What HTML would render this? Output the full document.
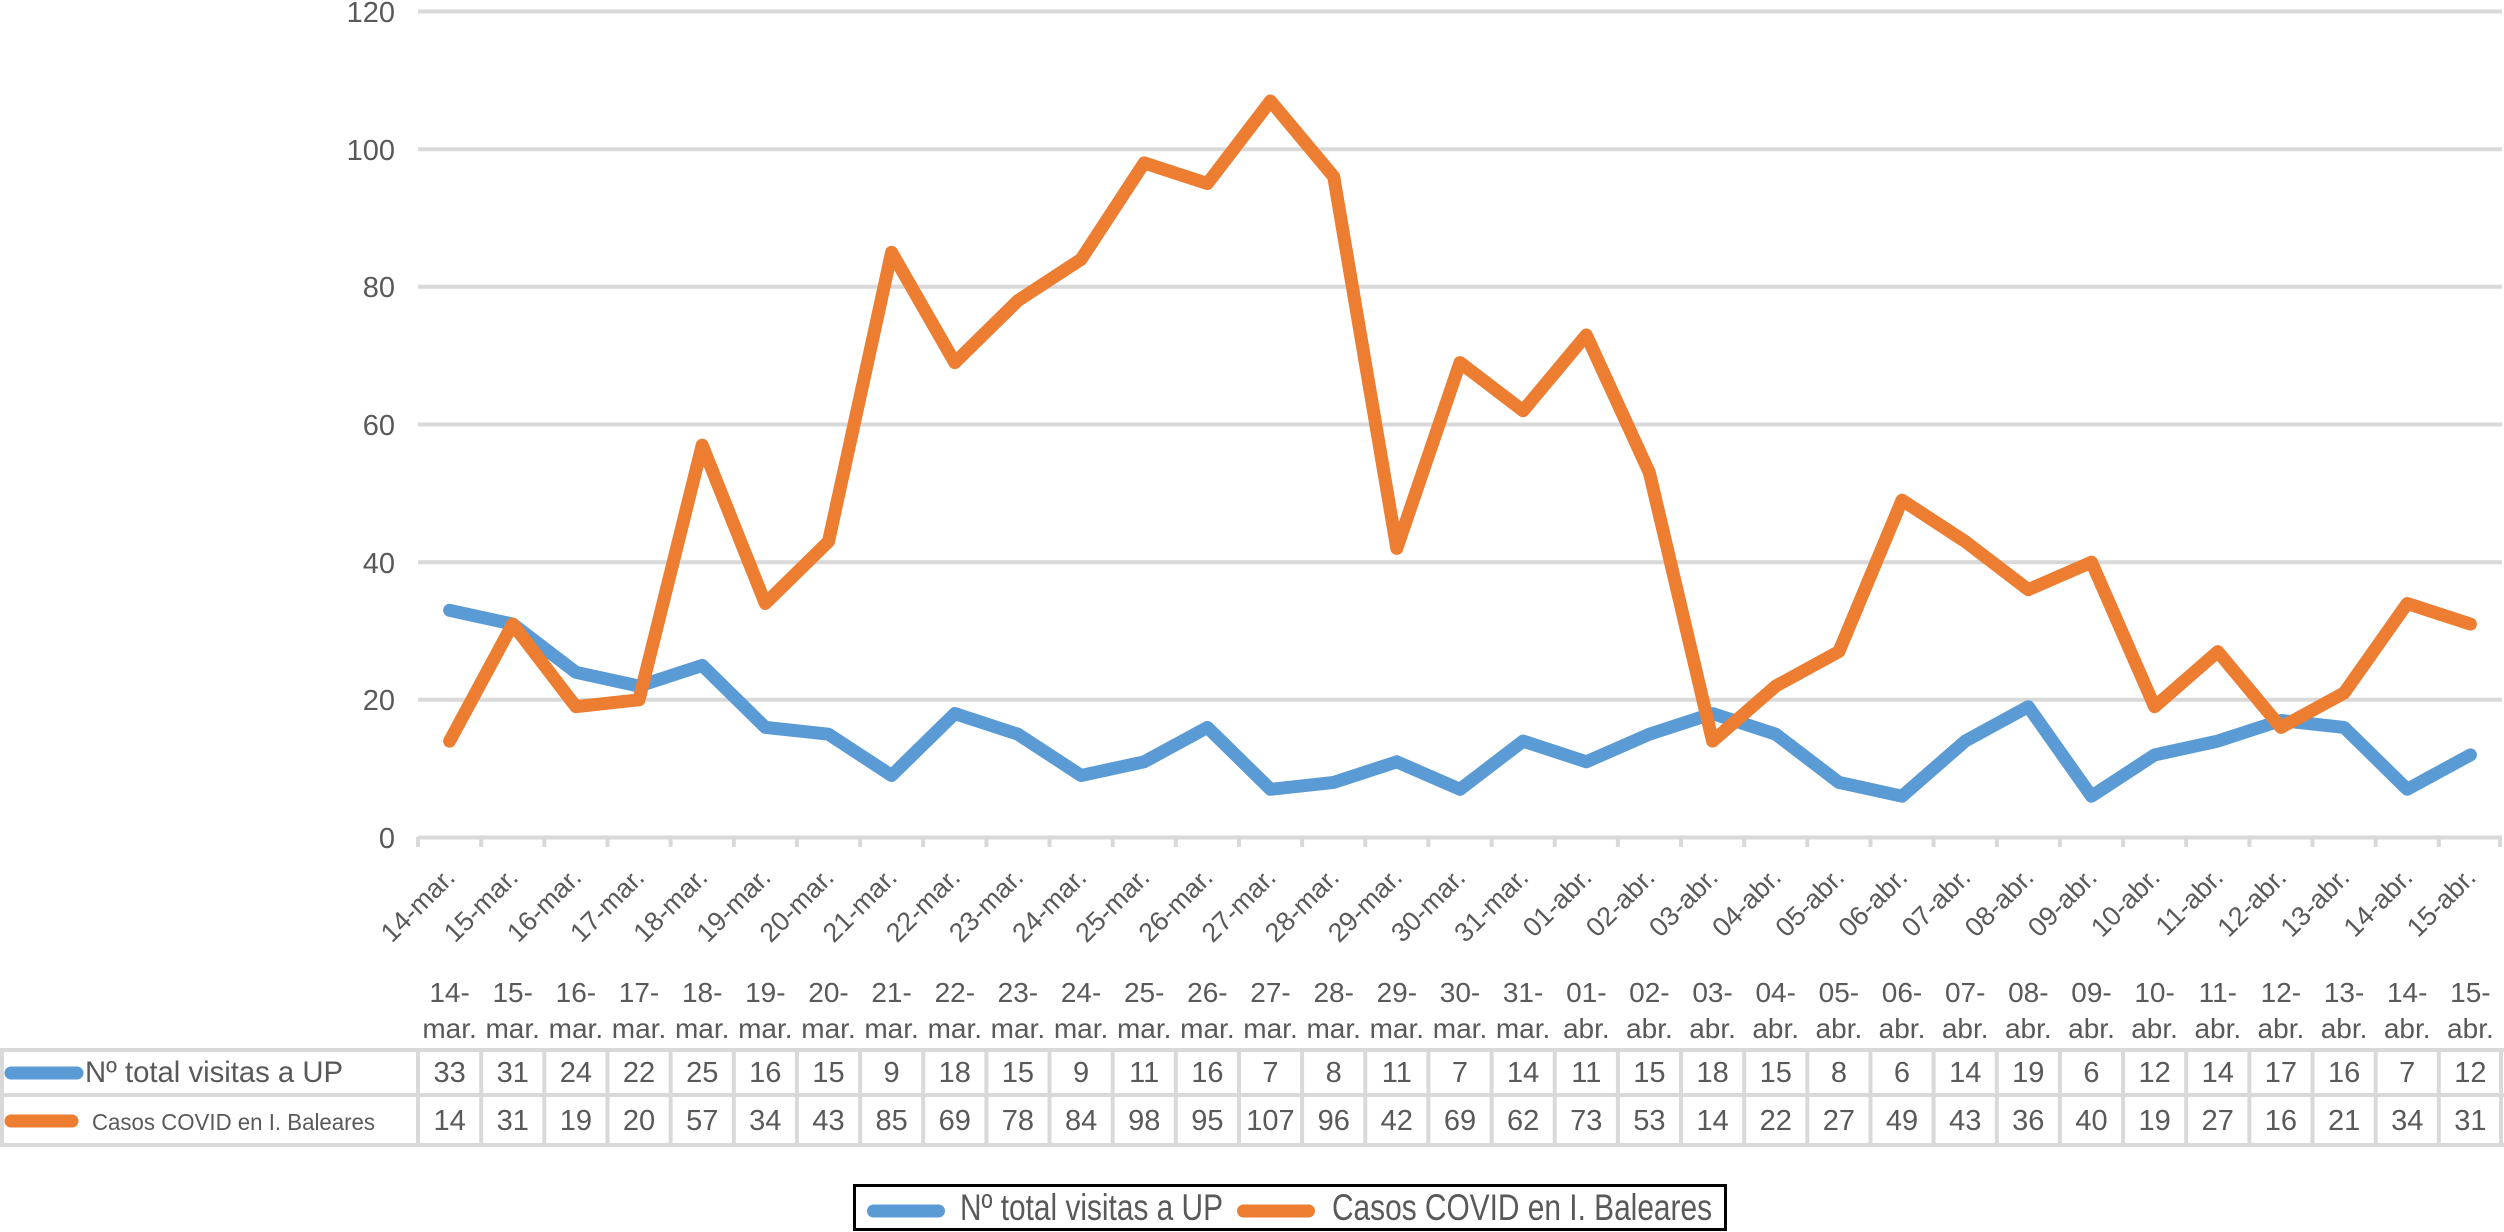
<!DOCTYPE html>
<html><head><meta charset="utf-8"><style>
html,body{margin:0;padding:0;background:#fff;}
svg{display:block;}
text{font-family:"Liberation Sans",Arial,sans-serif;fill:#595959;}
</style></head><body>
<svg width="2504" height="1232" viewBox="0 0 2504 1232" xmlns="http://www.w3.org/2000/svg">
<rect width="2504" height="1232" fill="#fff"/>
<!-- gridlines -->
<g stroke="#d9d9d9" stroke-width="4">
<line x1="418" y1="11.5" x2="2502" y2="11.5"/>
<line x1="418" y1="149.2" x2="2502" y2="149.2"/>
<line x1="418" y1="286.8" x2="2502" y2="286.8"/>
<line x1="418" y1="424.5" x2="2502" y2="424.5"/>
<line x1="418" y1="562.2" x2="2502" y2="562.2"/>
<line x1="418" y1="699.8" x2="2502" y2="699.8"/>
<line x1="418" y1="837.5" x2="2502" y2="837.5"/>
</g>
<g stroke="#d9d9d9" stroke-width="4" id="ticks">
<line x1="418" y1="837" x2="418" y2="847"/><line x1="481.2" y1="837" x2="481.2" y2="847"/><line x1="544.3" y1="837" x2="544.3" y2="847"/><line x1="607.5" y1="837" x2="607.5" y2="847"/><line x1="670.6" y1="837" x2="670.6" y2="847"/><line x1="733.8" y1="837" x2="733.8" y2="847"/><line x1="796.9" y1="837" x2="796.9" y2="847"/><line x1="860.1" y1="837" x2="860.1" y2="847"/><line x1="923.2" y1="837" x2="923.2" y2="847"/><line x1="986.4" y1="837" x2="986.4" y2="847"/><line x1="1049.5" y1="837" x2="1049.5" y2="847"/><line x1="1112.7" y1="837" x2="1112.7" y2="847"/><line x1="1175.8" y1="837" x2="1175.8" y2="847"/><line x1="1239" y1="837" x2="1239" y2="847"/><line x1="1302.1" y1="837" x2="1302.1" y2="847"/><line x1="1365.3" y1="837" x2="1365.3" y2="847"/><line x1="1428.4" y1="837" x2="1428.4" y2="847"/><line x1="1491.6" y1="837" x2="1491.6" y2="847"/><line x1="1554.7" y1="837" x2="1554.7" y2="847"/><line x1="1617.9" y1="837" x2="1617.9" y2="847"/><line x1="1681" y1="837" x2="1681" y2="847"/><line x1="1744.2" y1="837" x2="1744.2" y2="847"/><line x1="1807.3" y1="837" x2="1807.3" y2="847"/><line x1="1870.5" y1="837" x2="1870.5" y2="847"/><line x1="1933.6" y1="837" x2="1933.6" y2="847"/><line x1="1996.8" y1="837" x2="1996.8" y2="847"/><line x1="2059.9" y1="837" x2="2059.9" y2="847"/><line x1="2123.1" y1="837" x2="2123.1" y2="847"/><line x1="2186.2" y1="837" x2="2186.2" y2="847"/><line x1="2249.4" y1="837" x2="2249.4" y2="847"/><line x1="2312.5" y1="837" x2="2312.5" y2="847"/><line x1="2375.7" y1="837" x2="2375.7" y2="847"/><line x1="2438.8" y1="837" x2="2438.8" y2="847"/><line x1="2500" y1="837" x2="2500" y2="847"/>
</g>
<!-- y labels -->
<g font-size="29" text-anchor="end">
<text x="395" y="22">120</text>
<text x="395" y="160">100</text>
<text x="395" y="297">80</text>
<text x="395" y="435">60</text>
<text x="395" y="573">40</text>
<text x="395" y="710">20</text>
<text x="395" y="848">0</text>
</g>
<!-- series -->
<polyline fill="none" stroke="#5b9bd5" stroke-width="13" stroke-linecap="round" stroke-linejoin="round" points="449.6,610.3 512.7,624.1 575.9,672.3 639.0,686.1 702.2,665.4 765.3,727.4 828.5,734.2 891.6,775.5 954.8,713.6 1017.9,734.2 1081.1,775.5 1144.2,761.8 1207.4,727.4 1270.5,789.3 1333.7,782.4 1396.8,761.8 1460.0,789.3 1523.1,741.1 1586.3,761.8 1649.4,734.2 1712.6,713.6 1775.7,734.2 1838.9,782.4 1902.0,796.2 1965.2,741.1 2028.3,706.7 2091.5,796.2 2154.6,754.9 2217.8,741.1 2280.9,720.5 2344.1,727.4 2407.2,789.3 2470.4,754.9"/>
<polyline fill="none" stroke="#ed7d31" stroke-width="13" stroke-linecap="round" stroke-linejoin="round" points="449.6,741.1 512.7,624.1 575.9,706.7 639.0,699.8 702.2,445.2 765.3,603.5 828.5,541.5 891.6,252.4 954.8,362.6 1017.9,300.6 1081.1,259.3 1144.2,162.9 1207.4,183.6 1270.5,101.0 1333.7,176.7 1396.8,548.4 1460.0,362.6 1523.1,410.7 1586.3,335.0 1649.4,472.7 1712.6,741.1 1775.7,686.1 1838.9,651.6 1902.0,500.2 1965.2,541.5 2028.3,589.7 2091.5,562.2 2154.6,706.7 2217.8,651.6 2280.9,727.4 2344.1,693.0 2407.2,603.5 2470.4,624.1"/>
<!-- rotated category labels -->
<g font-size="27" text-anchor="end">
<text transform="translate(456.6,879) rotate(-45)">14-mar.</text>
<text transform="translate(519.7,879) rotate(-45)">15-mar.</text>
<text transform="translate(582.9,879) rotate(-45)">16-mar.</text>
<text transform="translate(646.0,879) rotate(-45)">17-mar.</text>
<text transform="translate(709.2,879) rotate(-45)">18-mar.</text>
<text transform="translate(772.3,879) rotate(-45)">19-mar.</text>
<text transform="translate(835.5,879) rotate(-45)">20-mar.</text>
<text transform="translate(898.6,879) rotate(-45)">21-mar.</text>
<text transform="translate(961.8,879) rotate(-45)">22-mar.</text>
<text transform="translate(1024.9,879) rotate(-45)">23-mar.</text>
<text transform="translate(1088.1,879) rotate(-45)">24-mar.</text>
<text transform="translate(1151.2,879) rotate(-45)">25-mar.</text>
<text transform="translate(1214.4,879) rotate(-45)">26-mar.</text>
<text transform="translate(1277.5,879) rotate(-45)">27-mar.</text>
<text transform="translate(1340.7,879) rotate(-45)">28-mar.</text>
<text transform="translate(1403.8,879) rotate(-45)">29-mar.</text>
<text transform="translate(1467.0,879) rotate(-45)">30-mar.</text>
<text transform="translate(1530.1,879) rotate(-45)">31-mar.</text>
<text transform="translate(1593.3,879) rotate(-45)">01-abr.</text>
<text transform="translate(1656.4,879) rotate(-45)">02-abr.</text>
<text transform="translate(1719.6,879) rotate(-45)">03-abr.</text>
<text transform="translate(1782.7,879) rotate(-45)">04-abr.</text>
<text transform="translate(1845.9,879) rotate(-45)">05-abr.</text>
<text transform="translate(1909.0,879) rotate(-45)">06-abr.</text>
<text transform="translate(1972.2,879) rotate(-45)">07-abr.</text>
<text transform="translate(2035.3,879) rotate(-45)">08-abr.</text>
<text transform="translate(2098.5,879) rotate(-45)">09-abr.</text>
<text transform="translate(2161.6,879) rotate(-45)">10-abr.</text>
<text transform="translate(2224.8,879) rotate(-45)">11-abr.</text>
<text transform="translate(2287.9,879) rotate(-45)">12-abr.</text>
<text transform="translate(2351.1,879) rotate(-45)">13-abr.</text>
<text transform="translate(2414.2,879) rotate(-45)">14-abr.</text>
<text transform="translate(2477.4,879) rotate(-45)">15-abr.</text>
</g>
<!-- table header -->
<g font-size="28" text-anchor="middle">
<text x="449.6" y="1002">14-</text><text x="449.6" y="1038">mar.</text>
<text x="512.7" y="1002">15-</text><text x="512.7" y="1038">mar.</text>
<text x="575.9" y="1002">16-</text><text x="575.9" y="1038">mar.</text>
<text x="639.0" y="1002">17-</text><text x="639.0" y="1038">mar.</text>
<text x="702.2" y="1002">18-</text><text x="702.2" y="1038">mar.</text>
<text x="765.3" y="1002">19-</text><text x="765.3" y="1038">mar.</text>
<text x="828.5" y="1002">20-</text><text x="828.5" y="1038">mar.</text>
<text x="891.6" y="1002">21-</text><text x="891.6" y="1038">mar.</text>
<text x="954.8" y="1002">22-</text><text x="954.8" y="1038">mar.</text>
<text x="1017.9" y="1002">23-</text><text x="1017.9" y="1038">mar.</text>
<text x="1081.1" y="1002">24-</text><text x="1081.1" y="1038">mar.</text>
<text x="1144.2" y="1002">25-</text><text x="1144.2" y="1038">mar.</text>
<text x="1207.4" y="1002">26-</text><text x="1207.4" y="1038">mar.</text>
<text x="1270.5" y="1002">27-</text><text x="1270.5" y="1038">mar.</text>
<text x="1333.7" y="1002">28-</text><text x="1333.7" y="1038">mar.</text>
<text x="1396.8" y="1002">29-</text><text x="1396.8" y="1038">mar.</text>
<text x="1460.0" y="1002">30-</text><text x="1460.0" y="1038">mar.</text>
<text x="1523.1" y="1002">31-</text><text x="1523.1" y="1038">mar.</text>
<text x="1586.3" y="1002">01-</text><text x="1586.3" y="1038">abr.</text>
<text x="1649.4" y="1002">02-</text><text x="1649.4" y="1038">abr.</text>
<text x="1712.6" y="1002">03-</text><text x="1712.6" y="1038">abr.</text>
<text x="1775.7" y="1002">04-</text><text x="1775.7" y="1038">abr.</text>
<text x="1838.9" y="1002">05-</text><text x="1838.9" y="1038">abr.</text>
<text x="1902.0" y="1002">06-</text><text x="1902.0" y="1038">abr.</text>
<text x="1965.2" y="1002">07-</text><text x="1965.2" y="1038">abr.</text>
<text x="2028.3" y="1002">08-</text><text x="2028.3" y="1038">abr.</text>
<text x="2091.5" y="1002">09-</text><text x="2091.5" y="1038">abr.</text>
<text x="2154.6" y="1002">10-</text><text x="2154.6" y="1038">abr.</text>
<text x="2217.8" y="1002">11-</text><text x="2217.8" y="1038">abr.</text>
<text x="2280.9" y="1002">12-</text><text x="2280.9" y="1038">abr.</text>
<text x="2344.1" y="1002">13-</text><text x="2344.1" y="1038">abr.</text>
<text x="2407.2" y="1002">14-</text><text x="2407.2" y="1038">abr.</text>
<text x="2470.4" y="1002">15-</text><text x="2470.4" y="1038">abr.</text>
</g>
<!-- table grid -->
<g stroke="#d9d9d9" stroke-width="4">
<line x1="0" y1="1050" x2="2504" y2="1050"/>
<line x1="0" y1="1095" x2="2504" y2="1095"/>
<line x1="0" y1="1145" x2="2504" y2="1145"/>
<line x1="2" y1="1048" x2="2" y2="1147"/>
<line x1="418" y1="1048" x2="418" y2="1147"/><line x1="481.2" y1="1048" x2="481.2" y2="1147"/><line x1="544.3" y1="1048" x2="544.3" y2="1147"/><line x1="607.5" y1="1048" x2="607.5" y2="1147"/><line x1="670.6" y1="1048" x2="670.6" y2="1147"/><line x1="733.8" y1="1048" x2="733.8" y2="1147"/><line x1="796.9" y1="1048" x2="796.9" y2="1147"/><line x1="860.1" y1="1048" x2="860.1" y2="1147"/><line x1="923.2" y1="1048" x2="923.2" y2="1147"/><line x1="986.4" y1="1048" x2="986.4" y2="1147"/><line x1="1049.5" y1="1048" x2="1049.5" y2="1147"/><line x1="1112.7" y1="1048" x2="1112.7" y2="1147"/><line x1="1175.8" y1="1048" x2="1175.8" y2="1147"/><line x1="1239" y1="1048" x2="1239" y2="1147"/><line x1="1302.1" y1="1048" x2="1302.1" y2="1147"/><line x1="1365.3" y1="1048" x2="1365.3" y2="1147"/><line x1="1428.4" y1="1048" x2="1428.4" y2="1147"/><line x1="1491.6" y1="1048" x2="1491.6" y2="1147"/><line x1="1554.7" y1="1048" x2="1554.7" y2="1147"/><line x1="1617.9" y1="1048" x2="1617.9" y2="1147"/><line x1="1681" y1="1048" x2="1681" y2="1147"/><line x1="1744.2" y1="1048" x2="1744.2" y2="1147"/><line x1="1807.3" y1="1048" x2="1807.3" y2="1147"/><line x1="1870.5" y1="1048" x2="1870.5" y2="1147"/><line x1="1933.6" y1="1048" x2="1933.6" y2="1147"/><line x1="1996.8" y1="1048" x2="1996.8" y2="1147"/><line x1="2059.9" y1="1048" x2="2059.9" y2="1147"/><line x1="2123.1" y1="1048" x2="2123.1" y2="1147"/><line x1="2186.2" y1="1048" x2="2186.2" y2="1147"/><line x1="2249.4" y1="1048" x2="2249.4" y2="1147"/><line x1="2312.5" y1="1048" x2="2312.5" y2="1147"/><line x1="2375.7" y1="1048" x2="2375.7" y2="1147"/><line x1="2438.8" y1="1048" x2="2438.8" y2="1147"/><line x1="2501" y1="1048" x2="2501" y2="1147"/>
</g>
<!-- table row labels -->
<line x1="11" y1="1073" x2="77" y2="1073" stroke="#5b9bd5" stroke-width="13" stroke-linecap="round"/>
<text x="85" y="1082" font-size="30" textLength="258" lengthAdjust="spacingAndGlyphs">Nº total visitas a UP</text>
<line x1="11" y1="1121" x2="72" y2="1121" stroke="#ed7d31" stroke-width="13" stroke-linecap="round"/>
<text x="92" y="1130" font-size="23" textLength="283" lengthAdjust="spacingAndGlyphs">Casos COVID en I. Baleares</text>
<!-- table values -->
<g font-size="29" text-anchor="middle">
<text x="449.6" y="1082">33</text><text x="512.7" y="1082">31</text><text x="575.9" y="1082">24</text><text x="639.0" y="1082">22</text><text x="702.2" y="1082">25</text><text x="765.3" y="1082">16</text><text x="828.5" y="1082">15</text><text x="891.6" y="1082">9</text><text x="954.8" y="1082">18</text><text x="1017.9" y="1082">15</text><text x="1081.1" y="1082">9</text><text x="1144.2" y="1082">11</text><text x="1207.4" y="1082">16</text><text x="1270.5" y="1082">7</text><text x="1333.7" y="1082">8</text><text x="1396.8" y="1082">11</text><text x="1460.0" y="1082">7</text><text x="1523.1" y="1082">14</text><text x="1586.3" y="1082">11</text><text x="1649.4" y="1082">15</text><text x="1712.6" y="1082">18</text><text x="1775.7" y="1082">15</text><text x="1838.9" y="1082">8</text><text x="1902.0" y="1082">6</text><text x="1965.2" y="1082">14</text><text x="2028.3" y="1082">19</text><text x="2091.5" y="1082">6</text><text x="2154.6" y="1082">12</text><text x="2217.8" y="1082">14</text><text x="2280.9" y="1082">17</text><text x="2344.1" y="1082">16</text><text x="2407.2" y="1082">7</text><text x="2470.4" y="1082">12</text>
<text x="449.6" y="1130">14</text><text x="512.7" y="1130">31</text><text x="575.9" y="1130">19</text><text x="639.0" y="1130">20</text><text x="702.2" y="1130">57</text><text x="765.3" y="1130">34</text><text x="828.5" y="1130">43</text><text x="891.6" y="1130">85</text><text x="954.8" y="1130">69</text><text x="1017.9" y="1130">78</text><text x="1081.1" y="1130">84</text><text x="1144.2" y="1130">98</text><text x="1207.4" y="1130">95</text><text x="1270.5" y="1130">107</text><text x="1333.7" y="1130">96</text><text x="1396.8" y="1130">42</text><text x="1460.0" y="1130">69</text><text x="1523.1" y="1130">62</text><text x="1586.3" y="1130">73</text><text x="1649.4" y="1130">53</text><text x="1712.6" y="1130">14</text><text x="1775.7" y="1130">22</text><text x="1838.9" y="1130">27</text><text x="1902.0" y="1130">49</text><text x="1965.2" y="1130">43</text><text x="2028.3" y="1130">36</text><text x="2091.5" y="1130">40</text><text x="2154.6" y="1130">19</text><text x="2217.8" y="1130">27</text><text x="2280.9" y="1130">16</text><text x="2344.1" y="1130">21</text><text x="2407.2" y="1130">34</text><text x="2470.4" y="1130">31</text>
</g>
<!-- legend -->
<rect x="854.5" y="1185.5" width="871" height="44" fill="#fff" stroke="#000" stroke-width="3"/>
<line x1="873.5" y1="1211" x2="938.5" y2="1211" stroke="#5b9bd5" stroke-width="13" stroke-linecap="round"/>
<text x="960" y="1220" font-size="37" textLength="263" lengthAdjust="spacingAndGlyphs">Nº total visitas a UP</text>
<line x1="1243.5" y1="1211" x2="1308.5" y2="1211" stroke="#ed7d31" stroke-width="13" stroke-linecap="round"/>
<text x="1332" y="1220" font-size="37" textLength="380" lengthAdjust="spacingAndGlyphs">Casos COVID en I. Baleares</text>
</svg>
</body></html>
